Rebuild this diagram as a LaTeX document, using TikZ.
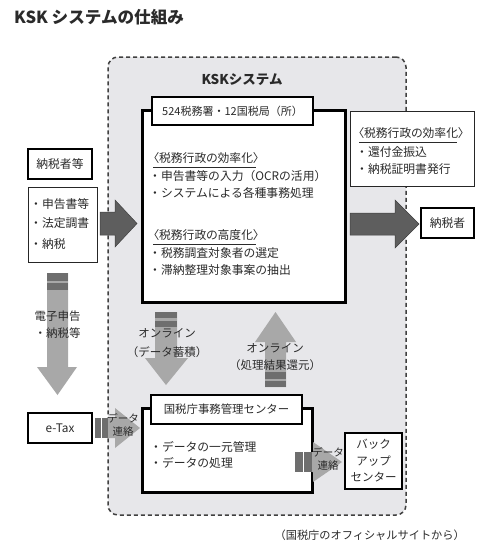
\documentclass[tikz,border=0pt]{standalone}
\usepackage{fontspec}
\setmainfont{Noto Sans CJK JP}
\newfontfamily\paltfont[RawFeature=+palt]{Noto Sans CJK JP}
\definecolor{bggray}{HTML}{E7E7EA}
\definecolor{darkarr}{HTML}{5E5E5E}
\definecolor{lightarr}{HTML}{A8A8A8}
\definecolor{bandc}{HTML}{6E6E6E}
\definecolor{txt}{HTML}{2A2A2A}
\tikzset{
  every node/.style={text=txt, font=\fontsize{11.8}{14}\selectfont},
  box/.style={draw=black, fill=white, inner sep=0pt},
  thickbox/.style={box, line width=3pt},
  midbox/.style={box, line width=1.8pt},
  thinbox/.style={box, line width=0.8pt, draw=black!85},
  txtline/.style={anchor=west, inner sep=0pt},
  headline/.style={anchor=west, inner sep=0pt, font=\paltfont\fontsize{11.8}{14}\selectfont},
  ctext/.style={inner sep=0pt, font=\fontsize{11.5}{13}\selectfont},
  darkarrow/.style={fill=darkarr, draw=black!75, line width=0.5pt},
  lightarrow/.style={fill=lightarr},
  bandbar/.style={fill=bandc},
  smalltext/.style={font=\fontsize{10.5}{12}\selectfont, inner sep=0pt},
  uline/.style={draw=txt, line width=0.8pt},
}
\begin{document}
\begin{tikzpicture}[x=1pt,y=-1pt]
\useasboundingbox (0,0) rectangle (500,554);
\fill[white] (0,0) rectangle (500,554);

% title
\node[txtline, font=\bfseries\fontsize{16.6}{18}\selectfont] (title) at (14,17) {KSK システムの仕組み};

% container
\node[draw=black!75, fill=bggray, line width=1.5pt, dash pattern=on 4pt off 3pt,
      rounded corners=10pt, minimum width=298pt, minimum height=458pt, inner sep=0pt] (sys) at (257,286) {};
\node[font=\bfseries\fontsize{13.5}{15}\selectfont, inner sep=0pt] (syslabel) at (242,80) {KSKシステム};

% dark arrows
\draw[darkarrow] (100,212) -- (115,212) -- (115,200) -- (137,223.5) -- (115,247) -- (115,235) -- (100,235) -- cycle;
\draw[darkarrow] (350,213) -- (395,213) -- (395,200) -- (419,224) -- (395,248) -- (395,235) -- (350,235) -- cycle;

% left down arrow
\fill[lightarrow] (47,273) -- (68,273) -- (68,367) -- (77,367) -- (57.5,395) -- (37,367) -- (47,367) -- cycle;
\fill[bandbar] (47,273) rectangle (68,281);
\fill[bandbar] (47,283) rectangle (68,290);
\node[ctext] (ed1) at (57.5,316) {電子申告};
\node[ctext] (ed2) at (57.5,333) {・納税等};

% middle down arrow
\fill[lightarrow] (155,312) -- (177,312) -- (177,358) -- (188,358) -- (166,385) -- (145,358) -- (155,358) -- cycle;
\fill[bandbar] (155,312) rectangle (177,318);
\fill[bandbar] (155,321) rectangle (177,327);
\node[ctext] (on1) at (167,333) {オンライン};
\node[ctext] (on2) at (167,352) {（データ蓄積）};

% up arrow
\fill[lightarrow] (265,387) -- (265,342) -- (255,342) -- (275.5,312) -- (296,342) -- (286,342) -- (286,387) -- cycle;
\fill[bandbar] (265,372) rectangle (286,379);
\fill[bandbar] (265,381) rectangle (286,387);
\node[ctext] (up1) at (275,348) {オンライン};
\node[ctext] (up2) at (275,365) {（処理結果還元）};

% main box
\node[thickbox, minimum width=203pt, minimum height=192pt] (main) at (243.5,206) {};
\node[box, line width=1.5pt, minimum width=161pt, minimum height=28pt, font=\fontsize{11}{12}\selectfont] (mainhead) at (232.5,111) {524税務署・12国税局（所）};
\node[headline] (m1) at (153,158) {〈税務行政の効率化〉};
\draw[uline] (153,167) -- (256,167);
\node[txtline] (m2) at (149,176) {・申告書等の入力（OCRの活用）};
\node[txtline] (m3) at (149,193) {・システムによる各種事務処理};
\node[headline] (m4) at (153,235) {〈税務行政の高度化〉};
\draw[uline] (153,244) -- (256,244);
\node[txtline] (m5) at (149,253) {・税務調査対象者の選定};
\node[txtline] (m6) at (149,270) {・滞納整理対象事案の抽出};

% right box
\node[thinbox, minimum width=124pt, minimum height=75pt] (rbox) at (412,148.5) {};
\node[headline] (r1) at (358,133) {〈税務行政の効率化〉};
\draw[uline] (359,142) -- (457,142);
\node[txtline] (r2) at (356,152) {・還付金振込};
\node[txtline] (r3) at (356,169) {・納税証明書発行};

% taxpayer
\node[midbox, minimum width=53pt, minimum height=30pt] (payer) at (447.5,223) {納税者};

% left boxes
\node[midbox, minimum width=64pt, minimum height=30pt] (payers) at (60,164) {納税者等};
\node[thinbox, minimum width=69pt, minimum height=75pt] (docs) at (62.5,224.5) {};
\node[txtline] (d1) at (30,204) {・申告書等};
\node[txtline] (d2) at (30,223) {・法定調書};
\node[txtline] (d3) at (30,244) {・納税};

\node[midbox, minimum width=64pt, minimum height=30pt] (etax) at (60,428) {e-Tax};

% e-Tax link arrow
\fill[lightarrow] (108,418) -- (115,418) -- (115,408) -- (140,428) -- (115,448) -- (115,438) -- (108,438) -- cycle;
\fill[bandbar] (95,418) rectangle (101,438);
\fill[bandbar] (102,418) rectangle (108,438);
\node[smalltext] (l1a) at (123,418) {データ};
\node[smalltext] (l1b) at (123,432) {連絡};

% center box
\node[thickbox, minimum width=170pt, minimum height=84pt] (center) at (227,450) {};
\node[box, line width=1.5pt, minimum width=151pt, minimum height=29pt, font=\fontsize{11.4}{13}\selectfont] (centerhead) at (226.5,409.5) {国税庁事務管理センター};
\node[txtline] (c1) at (150,447) {・データの一元管理};
\node[txtline] (c2) at (150,463) {・データの処理};

% backup link arrow
\fill[lightarrow] (312,452) -- (313,452) -- (313,442) -- (342,462) -- (313,482) -- (313,472) -- (312,472) -- cycle;
\fill[bandbar] (295,452) rectangle (303,472);
\fill[bandbar] (304,452) rectangle (312,472);
\node[smalltext] (l2a) at (328,452) {データ};
\node[smalltext] (l2b) at (328,466) {連絡};

% backup box
\node[midbox, minimum width=57pt, minimum height=56pt, align=center, font=\fontsize{11.5}{16.5}\selectfont] (backup) at (373.5,461) {バック\\アップ\\センター};

% caption
\node[anchor=east, inner sep=0pt, font=\fontsize{11.2}{12}\selectfont] (caption) at (465,535) {（国税庁のオフィシャルサイトから）};
\end{tikzpicture}
\end{document}
